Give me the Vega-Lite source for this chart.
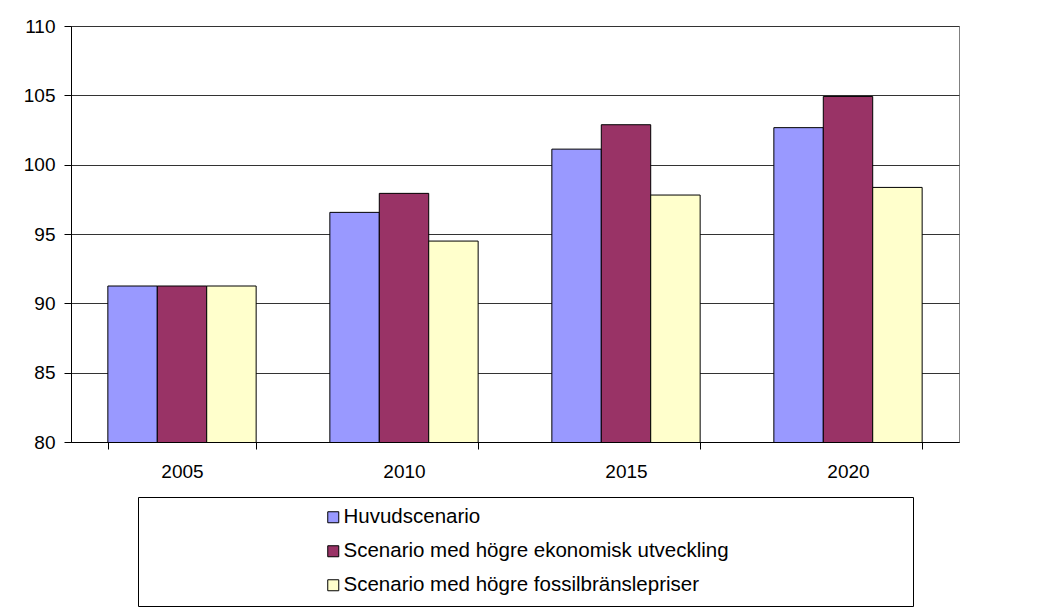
{
  "$schema": "https://vega.github.io/schema/vega-lite/v6.json",
  "width": 888,
  "height": 416,
  "autosize": "none",
  "padding": {"left": 71, "top": 26, "right": 79, "bottom": 166},
  "background": "white",
  "data": {
    "values": [
      {"year": "2005", "scenario": "Huvudscenario", "value": 91.25},
      {"year": "2005", "scenario": "Scenario med högre ekonomisk utveckling", "value": 91.25},
      {"year": "2005", "scenario": "Scenario med högre fossilbränslepriser", "value": 91.25},
      {"year": "2010", "scenario": "Huvudscenario", "value": 96.56},
      {"year": "2010", "scenario": "Scenario med högre ekonomisk utveckling", "value": 97.93},
      {"year": "2010", "scenario": "Scenario med högre fossilbränslepriser", "value": 94.49},
      {"year": "2015", "scenario": "Huvudscenario", "value": 101.12},
      {"year": "2015", "scenario": "Scenario med högre ekonomisk utveckling", "value": 102.88},
      {"year": "2015", "scenario": "Scenario med högre fossilbränslepriser", "value": 97.81},
      {"year": "2020", "scenario": "Huvudscenario", "value": 102.67},
      {"year": "2020", "scenario": "Scenario med högre ekonomisk utveckling", "value": 104.92},
      {"year": "2020", "scenario": "Scenario med högre fossilbränslepriser", "value": 98.36}
    ]
  },
  "mark": {"type": "bar", "stroke": "black", "strokeWidth": 1, "clip": true},
  "encoding": {
    "x": {
      "field": "year",
      "type": "nominal",
      "scale": {"paddingInner": 0.332, "paddingOuter": 0.166},
      "axis": {
        "title": null,
        "labelAngle": 0,
        "tickBand": "extent",
        "tickSize": 7,
        "tickColor": "black",
        "domainColor": "black",
        "labelPadding": 13,
        "grid": false
      }
    },
    "xOffset": {
      "field": "scenario",
      "type": "nominal",
      "scale": {"paddingInner": 0, "paddingOuter": 0},
      "sort": ["Huvudscenario", "Scenario med högre ekonomisk utveckling", "Scenario med högre fossilbränslepriser"]
    },
    "y": {
      "field": "value",
      "type": "quantitative",
      "scale": {"domain": [80, 110], "nice": false, "zero": false},
      "axis": {
        "title": null,
        "values": [80, 85, 90, 95, 100, 105, 110],
        "tickSize": 7,
        "tickColor": "black",
        "domainColor": "black",
        "labelPadding": 9,
        "grid": true,
        "gridColor": "#333333",
        "gridWidth": 1
      }
    },
    "color": {
      "field": "scenario",
      "type": "nominal",
      "scale": {
        "domain": ["Huvudscenario", "Scenario med högre ekonomisk utveckling", "Scenario med högre fossilbränslepriser"],
        "range": ["#9999FF", "#993366", "#FFFFCC"]
      },
      "legend": {
        "orient": "none",
        "legendX": 67,
        "legendY": 471,
        "direction": "vertical",
        "title": "\u00a0",
        "titleOrient": "right",
        "titleFontSize": 1,
        "titlePadding": 174,
        "padding": 10,
        "strokeColor": "black",
        "fillColor": "white",
        "symbolType": "square",
        "symbolSize": 121,
        "symbolStrokeColor": "black",
        "symbolStrokeWidth": 1,
        "symbolOpacity": 1,
        "symbolOffset": 175,
        "labelOffset": 0,
        "labelFontSize": 20.5,
        "labelFont": "Liberation Sans",
        "labelColor": "black",
        "labelLimit": 0,
        "rowPadding": 13
      }
    }
  },
  "config": {
    "font": "Liberation Sans",
    "view": {"stroke": "#808080", "strokeWidth": 1},
    "axis": {
      "labelFont": "Liberation Sans",
      "labelFontSize": 19,
      "labelColor": "black",
      "domainWidth": 1,
      "tickWidth": 1
    }
  }
}
